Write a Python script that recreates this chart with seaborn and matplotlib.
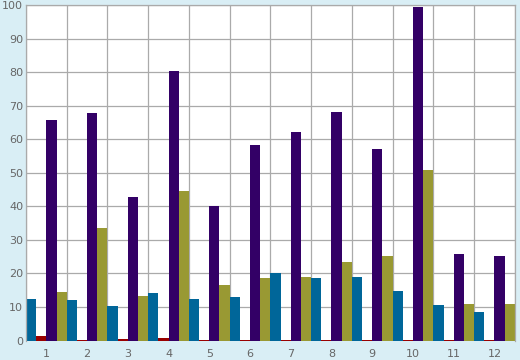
import numpy as np
import pandas as pd
import matplotlib
matplotlib.use('Agg')
import matplotlib.pyplot as plt
import seaborn as sns

categories = ['1', '2', '3', '4', '5', '6', '7', '8', '9', '10', '11', '12']
serie_bleu = [12.5, 12.2, 10.2, 14.1, 12.4, 13.0, 20.0, 18.7, 18.8, 14.8, 10.5, 8.5]
serie_rouge = [1.5, 0.2, 0.6, 0.9, 0.2, 0.2, 0.2, 0.2, 0.2, 0.2, 0.2, 0.2]
serie_violet = [65.8, 67.9, 42.8, 80.4, 40.1, 58.3, 62.2, 68.2, 57.1, 99.5, 25.8, 25.2]
serie_olive = [14.5, 33.5, 13.4, 44.6, 16.5, 18.6, 18.8, 23.5, 25.3, 50.9, 11.0, 11.0]

noms = ['bleu', 'rouge', 'violet', 'olive']
couleurs = ['#006699', '#990000', '#330066', '#999933']

df = pd.DataFrame({'cat': categories * 4,
                   'serie': np.repeat(noms, len(categories)),
                   'valeur': serie_bleu + serie_rouge + serie_violet + serie_olive})

sns.set_style('white')
fig = plt.figure(figsize=(5.2, 3.6), dpi=100, facecolor='#d9eef5')
ax = fig.add_axes([0.05, 0.054, 0.94, 0.932])

sns.barplot(data=df, x='cat', y='valeur', hue='serie', order=categories,
            hue_order=noms, palette=couleurs, width=1.0, saturation=1,
            linewidth=0, legend=False, ax=ax)

ax.set_xlim(-0.5, len(categories) - 0.5)
ax.set_ylim(0, 100)
ax.set_yticks(np.arange(0, 101, 10))
ax.set_xticks(np.arange(len(categories) + 1) - 0.5)
ax.set_xticklabels([])
ax.set_xticks(np.arange(len(categories)), minor=True)
ax.set_xticklabels(categories, minor=True)
ax.tick_params(axis='x', which='major', length=5, width=0.9, color='#999999', direction='out')
ax.tick_params(axis='x', which='minor', length=0, labelsize=8, labelcolor='#666666', pad=6)
ax.tick_params(axis='y', length=0, labelsize=8, labelcolor='#666666', pad=2)
ax.grid(True, which='major', color='#aaaaaa', linewidth=0.9)
ax.set_axisbelow(True)
for nom, s in ax.spines.items():
    s.set_color('#aaaaaa')
    s.set_linewidth(0.9)
ax.spines['bottom'].set_visible(False)
ax.set_xlabel('')
ax.set_ylabel('')

plt.savefig('out.png', dpi=100, facecolor=fig.get_facecolor())
